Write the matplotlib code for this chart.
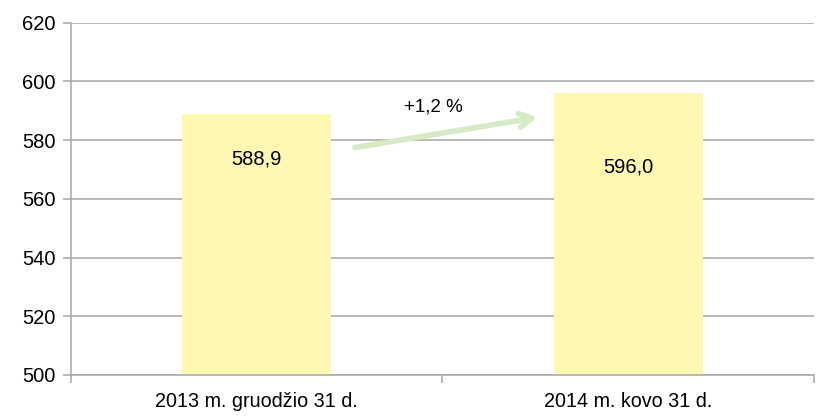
import matplotlib.pyplot as plt

# duomenys
categories = ['2013 m. gruodžio 31 d.', '2014 m. kovo 31 d.']
values = [588.9, 596.0]
value_labels = ['588,9', '596,0']
label_y = [573.6, 570.8]
change_text = '+1,2 %'

bar_color = '#FFF8B0'
grid_color = '#A6A6A6'

fig = plt.figure(figsize=(8.17, 4.18), dpi=100)
ax = fig.add_axes([0.0869, 0.1029, 0.9094, 0.8428])

x = range(len(categories))
ax.bar(x, values, width=0.4, color=bar_color, zorder=2)

ax.set_ylim(500, 620)
ax.set_xlim(-0.5, 1.5)
ax.set_yticks(range(500, 621, 20))
ax.yaxis.grid(True, color=grid_color, linewidth=1.1, zorder=0)

# x ašies žymės tarp kategorijų
ax.set_xticks([-0.5, 0.5, 1.5])
ax.set_xticklabels([])
ax.set_xticks(list(x), minor=True)
ax.set_xticklabels(categories, minor=True, fontsize=14.2, family='Liberation Sans')
ax.tick_params(axis='x', which='minor', length=0, pad=12)
ax.tick_params(axis='x', which='major', length=6, color=grid_color, width=1.1)
ax.tick_params(axis='y', length=6, color=grid_color, width=1.1, labelsize=14.5, pad=5)
for lab in ax.get_yticklabels():
    lab.set_family('Liberation Sans')

for s in ['top', 'right']:
    ax.spines[s].set_visible(False)
ax.spines['left'].set_color(grid_color)
ax.spines['left'].set_linewidth(1.1)
ax.spines['bottom'].set_color(grid_color)
ax.spines['bottom'].set_linewidth(1.1)

for i, (t, y) in enumerate(zip(value_labels, label_y)):
    ax.text(i, y, t, ha='center', va='center', fontsize=14.5, family='Liberation Sans', zorder=3)

# rodyklė
ax.annotate('', xy=(0.763, 587.9), xytext=(0.257, 577.3),
            arrowprops=dict(arrowstyle='->,head_length=0.9,head_width=0.5', color='#D5EBC3', lw=4),
            zorder=3)
ax.text(0.475, 591.3, change_text, ha='center', va='center', fontsize=13.5, family='Liberation Sans')

fig.savefig('out.png', dpi=100)
